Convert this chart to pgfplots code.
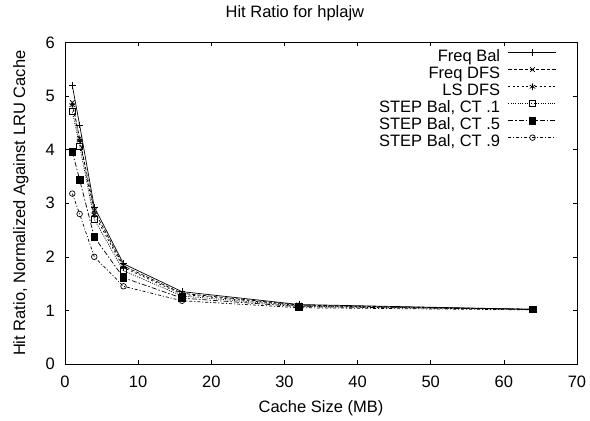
\documentclass[border=0pt]{standalone}
\usepackage{fontspec}
\setmainfont{Liberation Sans}
\usepackage{pgfplots}
\pgfplotsset{compat=1.18}
\pgfplotstableread{
x   fb    fd    ls    c1    c5    c9
1   5.20  4.88  4.83  4.71  3.96  3.18
2   4.46  4.21  4.17  4.07  3.44  2.80
4   2.93  2.86  2.79  2.70  2.37  2.00
8   1.87  1.83  1.80  1.74  1.61  1.45
16  1.35  1.32  1.30  1.27  1.23  1.18
32  1.11  1.10  1.09  1.08  1.07  1.05
64  1.02  1.02  1.02  1.02  1.02  1.01
}\data
\begin{document}
\begin{tikzpicture}[font=\fontsize{16.5bp}{19bp}\selectfont]
\useasboundingbox (0,0) rectangle (590bp,421bp);
\begin{axis}[
  at={(65bp,57bp)}, anchor=south west,
  scale only axis, width=512bp, height=321.5bp,
  xmin=0, xmax=70, ymin=0, ymax=6,
  xtick={0,10,...,70}, ytick={0,1,...,6},
  tick align=inside, major tick length=4bp,
  axis line style={line width=0.8bp},
  every tick/.style={black, line width=0.6bp},
  /pgf/number format/assume math mode=true,
  xticklabel style={anchor=base, inner sep=0pt, yshift=-24bp},
  yticklabel style={anchor=east, inner sep=0pt, xshift=-10bp},
  title={Hit Ratio for hplajw},
  title style={at={(0.449,1.0597)}, anchor=base, inner sep=0pt},
  xlabel={Cache Size (MB)},
  xlabel style={at={(0.5,-0.1524)}, anchor=base, inner sep=0pt},
  ylabel={Hit Ratio, Normalized Against LRU Cache},
  ylabel style={at={(-0.0781,0.5)}, anchor=base, inner sep=0pt},
  legend style={at={(0.961,0.979)}, anchor=north east, draw=none, fill=none,
    inner sep=0pt, column sep=8bp, row sep=0pt,
    nodes={inner sep=0pt, text height=11.8bp, text depth=5bp}},
  legend cell align=right,
  legend plot pos=right,
  legend image code/.code={\draw[mark repeat=2,mark phase=2,#1] plot coordinates {(0bp,5.5bp) (24bp,5.5bp) (48bp,5.5bp)};},
  every axis plot/.append style={black, line width=0.7bp, mark size=3.3bp, mark options={solid, line width=0.7bp}},
]
\addplot[solid, mark=+] table[x=x,y=fb] {\data};
\addlegendentry{Freq Bal}
\addplot[dash pattern=on 3.5bp off 2bp, mark=x] table[x=x,y=fd] {\data};
\addlegendentry{Freq DFS}
\addplot[dash pattern=on 2bp off 2.5bp, mark=asterisk] table[x=x,y=ls] {\data};
\addlegendentry{LS DFS}
\addplot[dash pattern=on 1bp off 1.3bp, mark=square, mark size=3bp] table[x=x,y=c1] {\data};
\addlegendentry{STEP Bal, CT .1}
\addplot[dash pattern=on 5bp off 2bp on 1.5bp off 2bp, mark=square*, mark size=3.3bp] table[x=x,y=c5] {\data};
\addlegendentry{STEP Bal, CT .5}
\addplot[dash pattern=on 3bp off 2bp on 1bp off 2bp, mark=o, mark size=2.8bp] table[x=x,y=c9] {\data};
\addlegendentry{STEP Bal, CT .9}
\end{axis}
\end{tikzpicture}
\end{document}
